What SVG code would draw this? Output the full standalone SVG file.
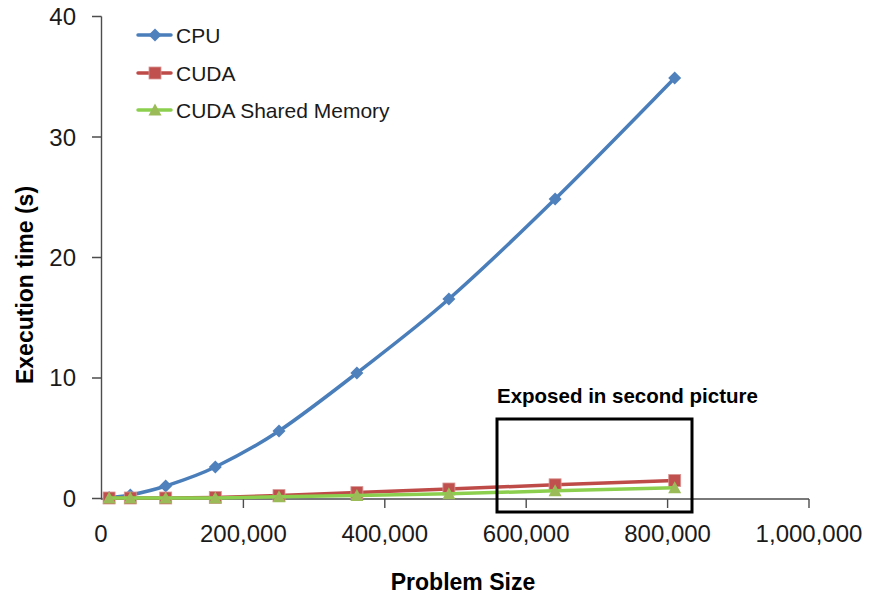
<svg xmlns="http://www.w3.org/2000/svg" width="871" height="598" viewBox="0 0 871 598">
  <style>
    .axis { stroke: #4d4d4d; stroke-width: 1.4; fill: none; }
    .tick { font-family: "Liberation Sans", Arial, sans-serif; font-size: 24px; fill: #1a1a1a; }
    .legend { font-family: "Liberation Sans", Arial, sans-serif; font-size: 21px; fill: #1a1a1a; }
    .title { font-family: "Liberation Sans", Arial, sans-serif; font-size: 23px; font-weight: bold; fill: #000; }
    .cpu { stroke: #4a7ebb; stroke-width: 3.5; fill: none; stroke-linejoin: round; stroke-linecap: round; }
    .cuda { stroke: #be4b48; stroke-width: 3.5; fill: none; stroke-linejoin: round; stroke-linecap: round; }
    .shared { stroke: #8ccf4f; stroke-width: 3.5; fill: none; stroke-linejoin: round; stroke-linecap: round; }
  </style>
  <defs>
    <path id="diamond" d="M0,-6.5 L6.5,0 L0,6.5 L-6.5,0 Z" fill="#4f81bd"/>
    <rect id="square" x="-6" y="-6" width="12" height="12" fill="#c0504d" stroke="#d99694" stroke-width="0.8"/>
    <path id="triangle" d="M0,-6.5 L6.5,5.5 L-6.5,5.5 Z" fill="#9bbb59"/>
  </defs>

  <rect width="871" height="598" fill="#ffffff"/>

  <!-- axes -->
  <g id="axes">
    <path class="axis" d="M101.5,16.5 V499 H809"/>
    <path class="axis" d="M92,16.5 H101.5 M92,137 H101.5 M92,257.5 H101.5 M92,378 H101.5 M92,498.5 H101.5"/>
    <path class="axis" d="M243.4,499 V508 M384.8,499 V508 M526.2,499 V508 M667.6,499 V508 M809,499 V508"/>
  </g>

  <g id="y-labels" class="tick" text-anchor="end">
    <text x="76" y="25">40</text>
    <text x="76" y="145.5">30</text>
    <text x="76" y="266">20</text>
    <text x="76" y="386">10</text>
    <text x="76" y="507">0</text>
  </g>

  <g id="x-labels" class="tick" text-anchor="middle">
    <text x="101" y="542">0</text>
    <text x="243.4" y="542">200,000</text>
    <text x="384.8" y="542">400,000</text>
    <text x="526.2" y="542">600,000</text>
    <text x="667.6" y="542">800,000</text>
    <text x="809" y="542">1,000,000</text>
  </g>

  <text id="x-title" class="title" x="463" y="590" text-anchor="middle">Problem Size</text>
  <text id="y-title" class="title" transform="translate(33,285) rotate(-90)" text-anchor="middle">Execution time (s)</text>

  <!-- series -->
  <g id="series-cpu">
    <path class="cpu" d="M109.1,497.6 C112.6,497.2 120.9,496.9 130.3,495 C139.7,493.1 151.5,490.7 165.7,486 C179.9,481.3 196.4,476.2 215.3,467 C234.2,457.8 255.4,446.7 279,431 C302.3,415.3 328.6,395 356.9,373 C385.2,351 415.9,328 448.9,299 C481.9,270 517.5,235.8 555.1,199 C592.7,162.2 654.8,98.2 674.7,78"/>
    <use href="#diamond" x="109.1" y="497.6"/>
    <use href="#diamond" x="130.3" y="495"/>
    <use href="#diamond" x="165.7" y="486"/>
    <use href="#diamond" x="215.3" y="467"/>
    <use href="#diamond" x="279" y="431"/>
    <use href="#diamond" x="356.9" y="373"/>
    <use href="#diamond" x="448.9" y="299"/>
    <use href="#diamond" x="555.1" y="199"/>
    <use href="#diamond" x="674.7" y="78"/>
  </g>

  <g id="series-cuda">
    <polyline class="cuda" points="109.1,498 130.3,498 165.7,498 215.3,497.5 279,495.6 356.9,492.6 448.9,489 555.1,484.8 674.7,480.5"/>
    <use href="#square" x="109.1" y="498"/>
    <use href="#square" x="130.3" y="498"/>
    <use href="#square" x="165.7" y="498"/>
    <use href="#square" x="215.3" y="497.5"/>
    <use href="#square" x="279" y="495.6"/>
    <use href="#square" x="356.9" y="492.6"/>
    <use href="#square" x="448.9" y="489"/>
    <use href="#square" x="555.1" y="484.8"/>
    <use href="#square" x="674.7" y="480.5"/>
  </g>

  <g id="series-shared">
    <polyline class="shared" points="109.1,498 130.3,498 165.7,498 215.3,498 279,496.8 356.9,495.6 448.9,493.8 555.1,490.8 674.7,487.8"/>
    <use href="#triangle" x="109.1" y="498"/>
    <use href="#triangle" x="130.3" y="498"/>
    <use href="#triangle" x="165.7" y="498"/>
    <use href="#triangle" x="215.3" y="498"/>
    <use href="#triangle" x="279" y="496.8"/>
    <use href="#triangle" x="356.9" y="495.6"/>
    <use href="#triangle" x="448.9" y="493.8"/>
    <use href="#triangle" x="555.1" y="490.8"/>
    <use href="#triangle" x="674.7" y="487.8"/>
  </g>

  <!-- legend -->
  <g id="legend">
    <line class="cpu" x1="138" y1="35" x2="171" y2="35"/>
    <use href="#diamond" x="155" y="35"/>
    <text class="legend" x="176" y="43">CPU</text>
    <line class="cuda" x1="138" y1="73" x2="171" y2="73"/>
    <use href="#square" x="155" y="73"/>
    <text class="legend" x="176" y="80.5">CUDA</text>
    <line class="shared" x1="138" y1="110" x2="171" y2="110"/>
    <use href="#triangle" x="155" y="110"/>
    <text class="legend" x="176" y="117.5">CUDA Shared Memory</text>
  </g>

  <!-- highlighted region -->
  <g id="highlight">
    <rect x="497" y="419" width="195" height="93" fill="none" stroke="#000" stroke-width="3"/>
    <text class="title" x="497" y="403" style="font-size:20.5px">Exposed in second picture</text>
  </g>
</svg>
